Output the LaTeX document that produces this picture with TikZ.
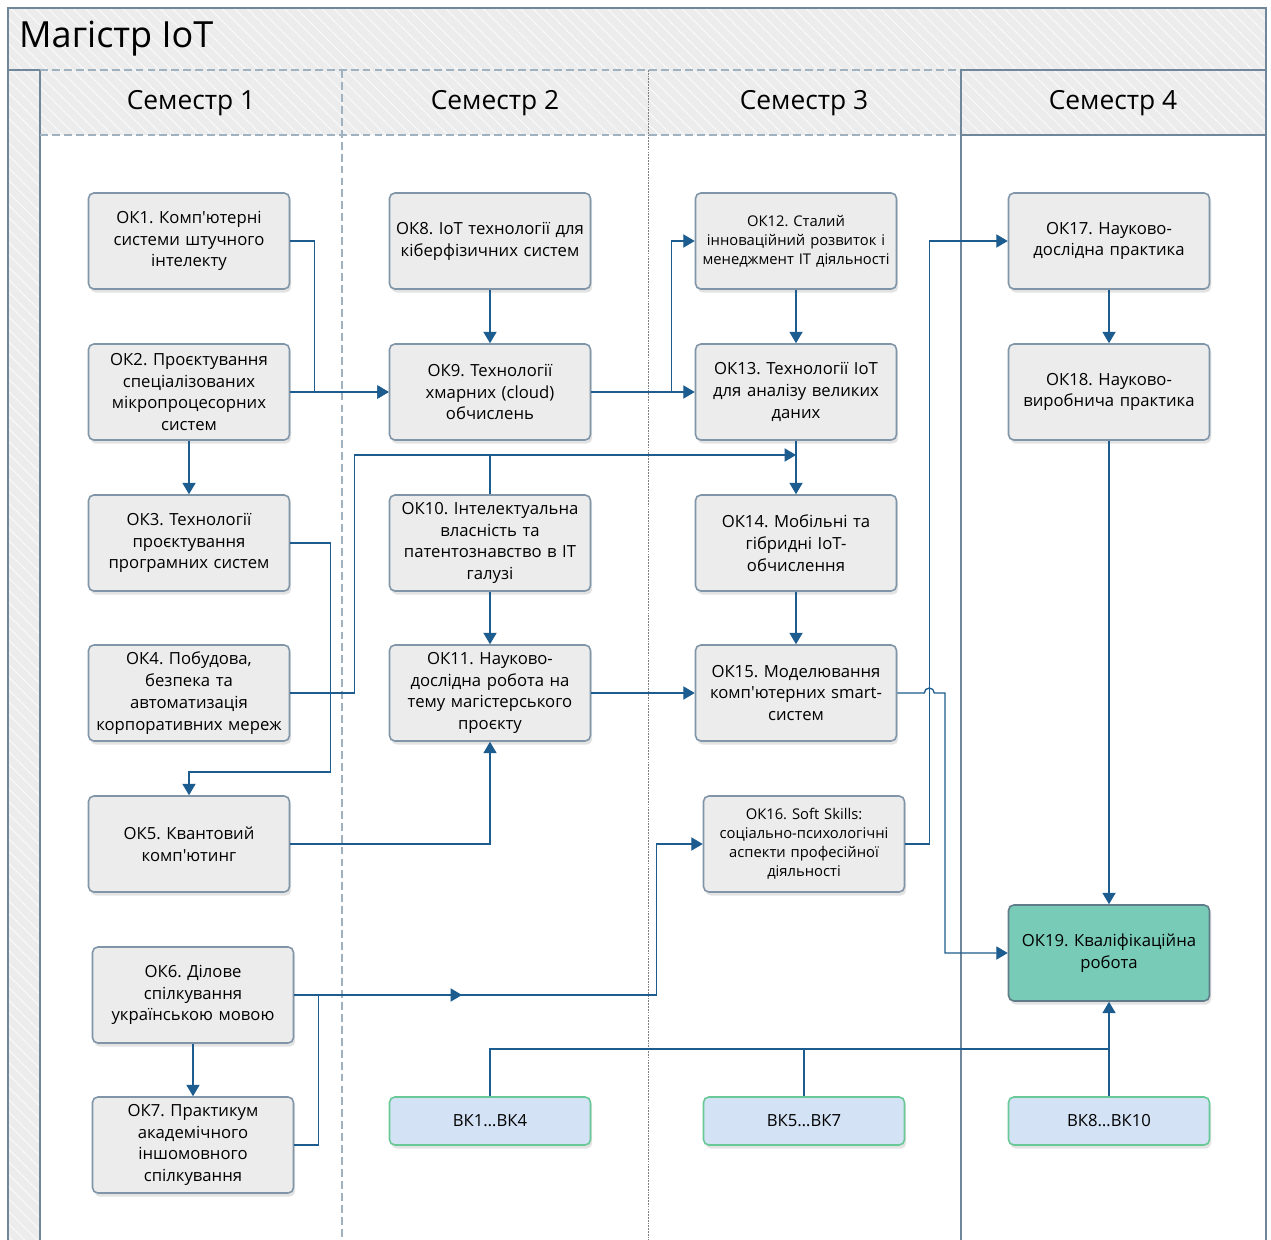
\documentclass[tikz,border=0pt]{standalone}
\usepackage{fontspec}
\setmainfont{Open Sans}
\frenchspacing
\usetikzlibrary{arrows.meta, positioning, calc, shadows, patterns.meta}

\definecolor{linkblue}{RGB}{28,92,142}
\definecolor{frameline}{RGB}{112,135,155}
\definecolor{lightline}{RGB}{160,178,192}
\definecolor{panel}{RGB}{236,236,236}
\definecolor{boxedge}{RGB}{128,150,168}
\definecolor{finalfill}{RGB}{120,203,182}
\definecolor{finaledge}{RGB}{96,124,138}
\definecolor{vkfill}{RGB}{211,226,245}
\definecolor{vkedge}{RGB}{104,200,150}

\tikzset{
  hatch/.style={postaction={pattern={Lines[angle=-45,distance=5pt,line width=0.5pt]}, pattern color=white!80!panel}},
  course/.style={draw=boxedge, fill=panel, line width=0.9pt, rounded corners=3pt,
    minimum width=4.02cm, minimum height=1.92cm, text width=3.9cm, inner sep=1pt,
    align=center, font=\fontsize{9.5}{12.4}\selectfont,
    drop shadow={opacity=0.22, shadow xshift=1pt, shadow yshift=-2pt}},
  small/.style={font=\fontsize{8.4}{10.8}\selectfont},
  final/.style={course, fill=finalfill, draw=finaledge},
  elective/.style={course, fill=vkfill, draw=vkedge, minimum height=0.96cm},
  link/.style={draw=linkblue, line width=0.75pt},
  header/.style={font=\fontsize{15}{18}\selectfont}
}

\begin{document}
\begin{tikzpicture}[x=0.02cm, y=-0.02cm, >={Triangle[length=6.5pt,width=7.5pt]}]
  \useasboundingbox (0,0) rectangle (1271,1240);

  % swim lanes
  \fill[panel, hatch] (8,8) rectangle (1266,70);
  \fill[panel, hatch] (8,70) rectangle (40,1240);
  \fill[panel, hatch] (40,70) rectangle (1266,135);
  \draw[frameline, line width=0.8pt] (8,1240) -- (8,8) -- (1266,8) -- (1266,1240);
  \draw[frameline, line width=0.8pt] (8,70) -- (40,70) -- (40,1240);
  \draw[lightline, line width=0.8pt, dash pattern=on 4.5pt off 2.3pt] (40,70) -- (961,70) (40,135) -- (961,135);
  \draw[lightline, line width=0.8pt, dash pattern=on 4.5pt off 2.3pt] (342,70) -- (342,1240);
  \draw[gray, line width=0.5pt, dash pattern=on 1pt off 0.6pt] (648,70) -- (648,1240);
  \draw[frameline, line width=0.8pt] (961,1240) -- (961,70) -- (1266,70) (961,135) -- (1266,135);

  \node[anchor=west, font=\fontsize{20.5}{24}\selectfont] (title) at (13,39) {Магістр IoT};
  \node[header] (sem1) at (191,103) {Семестр 1};
  \node[header] (sem2) at (495,103) {Семестр 2};
  \node[header] (sem3) at (804,103) {Семестр 3};
  \node[header] (sem4) at (1113,103) {Семестр 4};

  % semester 1
  \node[course] (ok1) at (189,241) {ОК1. Комп\textquotesingle ютерні\\системи штучного\\інтелекту};
  \node[course] (ok2) at (189,392) {ОК2. Проєктування\\спеціалізованих\\мікропроцесорних\\систем};
  \node[course] (ok3) at (189,543) {ОК3. Технології\\проєктування\\програмних систем};
  \node[course] (ok4) at (189,693) {ОК4. Побудова,\\безпека та\\автоматизація\\корпоративних мереж};
  \node[course] (ok5) at (189,844) {ОК5. Квантовий\\комп\textquotesingle ютинг};
  \node[course] (ok6) at (193,995) {ОК6. Ділове\\спілкування\\українською мовою};
  \node[course] (ok7) at (193,1145) {ОК7. Практикум\\академічного\\іншомовного\\спілкування};

  % semester 2
  \node[course] (ok8) at (490,241) {ОК8. IoT технології для\\кіберфізичних систем};
  \node[course] (ok9) at (490,392) {ОК9. Технології\\хмарних (cloud)\\обчислень};
  \node[course] (ok10) at (490,543) {ОК10. Інтелектуальна\\власність та\\патентознавство в IT\\галузі};
  \node[course] (ok11) at (490,693) {ОК11. Науково-\\дослідна робота на\\тему магістерського\\проєкту};
  \node[elective] (bk1) at (490,1121) {ВК1…ВК4};

  % semester 3
  \node[course, small] (ok12) at (796,241) {ОК12. Сталий\\інноваційний розвиток і\\менеджмент IT діяльності};
  \node[course] (ok13) at (796,392) {ОК13. Технології IoT\\для аналізу великих\\даних};
  \node[course] (ok14) at (796,543) {ОК14. Мобільні та\\гібридні IoT-\\обчислення};
  \node[course] (ok15) at (796,693) {ОК15. Моделювання\\комп\textquotesingle ютерних smart-\\систем};
  \node[course, small] (ok16) at (804,844) {ОК16. Soft Skills:\\соціально-психологічні\\аспекти професійної\\діяльності};
  \node[elective] (bk5) at (804,1121) {ВК5…ВК7};

  % semester 4
  \node[course] (ok17) at (1109,241) {ОК17. Науково-\\дослідна практика};
  \node[course] (ok18) at (1109,392) {ОК18. Науково-\\виробнича практика};
  \node[final] (ok19) at (1109,953) {ОК19. Кваліфікаційна\\робота};
  \node[elective] (bk8) at (1109,1121) {ВК8…ВК10};

  \coordinate (hub14) at (796,455);
  \coordinate (mid6) at (462,995);
  \coordinate (join19) at (1109,1049);

  % prerequisites
  \draw[link, ->] (ok1.east) -- ++(24,0) |- (ok9.west);
  \draw[link, ->] (ok2) -- (ok9);
  \draw[link, ->] (ok2) -- (ok3);
  \draw[link, ->] (ok3.east) -- ++(40,0) -- ++(0,229) -| (ok5.north);
  \draw[link, ->] (ok4.east) -- ++(64,0) |- (hub14);
  \draw[link] (ok10.north) -- (ok10.north |- hub14);
  \draw[link, ->] (ok5.east) -| (ok11.south);
  \draw[link, ->] (ok6.east) -- (mid6);
  \draw[link, ->] (ok6.east) -- ++(362,0) |- (ok16.west);
  \draw[link] (ok7.east) -- ++(24,0) |- (ok6.east);
  \draw[link, ->] (ok6) -- (ok7);
  \draw[link, ->] (ok8) -- (ok9);
  \draw[link, ->] (ok9) -- (ok13);
  \draw[link, ->] (ok9.east) -- ++(80,0) |- (ok12.west);
  \draw[link, ->] (ok10) -- (ok11);
  \draw[link, ->] (ok11) -- (ok15);
  \draw[link, ->] (ok12) -- (ok13);
  \draw[link, ->] (ok13) -- (ok14);
  \draw[link, ->] (ok14) -- (ok15);
  \draw[link, ->] (ok15.east) -- ++(27,0) arc[start angle=180, end angle=0, radius=0.1cm] -- (945,693) |- (ok19.west);
  \draw[link, ->] (ok16.east) -- ++(24,0) |- (ok17.west);
  \draw[link, ->] (ok17) -- (ok18);
  \draw[link, ->] (ok18) -- (ok19);
  \draw[link] (bk1.north) |- (join19);
  \draw[link] (bk5.north) |- (join19);
  \draw[link, ->] (bk8) -- (ok19);
\end{tikzpicture}
\end{document}
